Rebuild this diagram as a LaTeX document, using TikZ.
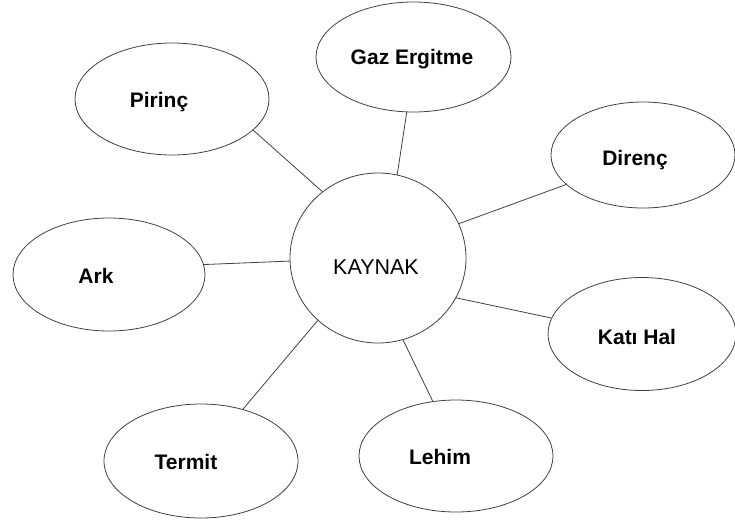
\documentclass[tikz,border=0pt]{standalone}
\usepackage{fontspec}
\setmainfont{Liberation Sans}
\usetikzlibrary{shapes.geometric}

\tikzset{
  bubble/.style={draw=black!75,line width=0.8pt,ellipse,inner sep=0pt},
  bubbletext/.style={inner sep=0pt,text height=15pt,text depth=0pt,
    font=\fontsize{21}{24}\selectfont\bfseries},
  spoke/.style={draw=black!75,line width=0.8pt}
}

\begin{document}
\begin{tikzpicture}[x=1pt,y=-1pt]
\useasboundingbox (0,0) rectangle (735,523);
\clip (0,0) rectangle (735,523);

\node[bubble,minimum width=176pt,minimum height=170pt] (kaynak) at (378,258) {};
\node[bubbletext,font=\fontsize{21.5}{24}\selectfont] (kaynak-t) at (376,267) {KAYNAK};

\foreach \Nm/\Xc/\Yc/\Wd/\Hg/\Tx/\Ty/\Texto in {
  pirinc/172/99/194/112/159/100/Pirinç,
  gaz/413.5/57/195/110/412/57/Gaz Ergitme,
  direnc/643/155/184/106/635/158/Direnç,
  ark/109/274.5/192/113/96/276/Ark,
  kati/642/334/188/113/637/337/Katı Hal,
  lehim/456/456/194/112/440/457/Lehim,
  termit/201/461/194/114/186/462/Termit}
{
  \node[bubble,minimum width=\Wd pt,minimum height=\Hg pt] (\Nm) at (\Xc,\Yc) {};
  \node[bubbletext] (\Nm-t) at (\Tx,\Ty) {\Texto};
}

\foreach \Nm/\Ang/\Kang in {pirinc/339/130,gaz/263/77.5,direnc/201.5/23.4,
  ark/6.2/182.6,kati/170/333.7,lehim/113/287.8,termit/51.1/226.4}
{
  \draw[spoke] (\Nm.\Ang) -- (kaynak.\Kang);
}
\end{tikzpicture}
\end{document}
